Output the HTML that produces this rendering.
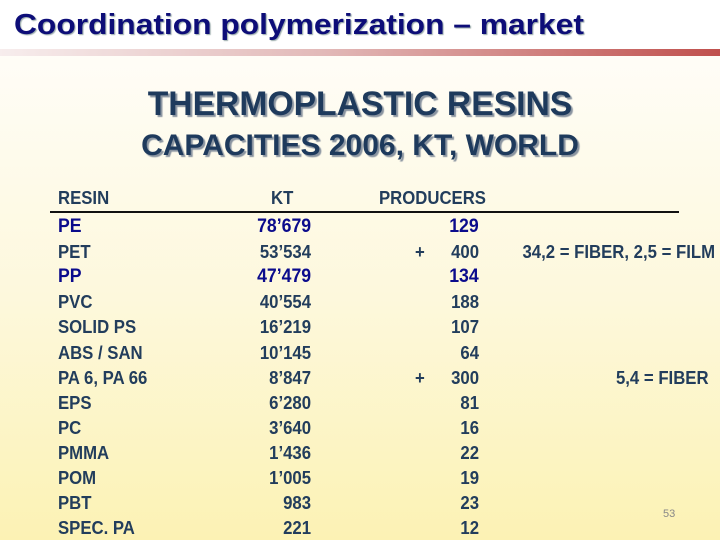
<!DOCTYPE html>
<html><head><meta charset="utf-8"><style>
html,body{margin:0;padding:0}
body{width:720px;height:540px;position:relative;overflow:hidden;background:#fff;font-family:"Liberation Sans",Arial,sans-serif}
#bg{position:absolute;left:0;top:56px;width:720px;height:484px;background:linear-gradient(to bottom,#fffdf7 0%,#fdf8dc 50%,#fcf2b4 100%)}
#bar{position:absolute;left:0;top:49px;width:720px;height:7px;background:linear-gradient(to right,#f7eded,#e2b9b8 45%,#c0504d)}
#title{position:absolute;left:14px;top:9px;font-size:29px;font-weight:bold;color:#0d0d78;white-space:nowrap;text-shadow:1px 1px 1px #9aa;transform:scaleX(1.095);transform-origin:left}
.h1{position:absolute;left:0;width:720px;text-align:center;font-weight:bold;white-space:nowrap;color:#1e3a5c;text-shadow:2px 2px 1px #8a94a0}
.t{position:absolute;font-size:18px;font-weight:bold;color:#223d5c;white-space:nowrap;line-height:20px;transform:scaleX(0.93)}
.l{transform-origin:left}.r{transform-origin:right;text-align:right}
.b{color:#0b0b8c;font-size:19px}
</style></head><body>
<div id="bg"></div>
<div id="bar"></div>
<div id="title">Coordination polymerization – market</div>
<div class="h1" style="top:85px;font-size:34px;transform:scaleX(0.99)">THERMOPLASTIC RESINS</div>
<div class="h1" style="top:129px;font-size:30px;transform:scaleX(1.0)">CAPACITIES 2006, KT, WORLD</div>
<div class="t l" style="left:58px;top:188px">RESIN</div>
<div class="t l" style="left:271px;top:188px">KT</div>
<div class="t l" style="left:379px;top:188px">PRODUCERS</div>
<div style="position:absolute;left:50px;top:211px;width:629px;height:2px;background:#111"></div>
<div id="rows"></div>
<div style="position:absolute;left:663px;top:508px;font-size:11px;color:#888">53</div>
<script>
const resins=["PE","PET","PP","PVC","SOLID PS","ABS / SAN","PA 6, PA 66","EPS","PC","PMMA","POM","PBT","SPEC. PA"];
const kt=["78’679","53’534","47’479","40’554","16’219","10’145","8’847","6’280","3’640","1’436","1’005","983","221"];
const producers=[129,400,134,188,107,64,300,81,16,22,19,23,12];
const plus=[false,true,false,false,false,false,true,false,false,false,false,false,false];
const notes=["","34,2 = FIBER, 2,5 = FILM","","","","","5,4 = FIBER","","","","","",""];
const bold=[true,false,true,false,false,false,false,false,false,false,false,false,false];
const rows=document.getElementById('rows');
function cell(txt,cls,style){const d=document.createElement('div');d.className='t '+cls;d.style.cssText=style;d.textContent=txt;rows.appendChild(d);return d;}
resins.forEach((r,i)=>{
 const top=217+i*25.1;const b=bold[i]?' b':'';
 let d=cell(r,'l'+b,`left:58px;top:${top}px`);
 
 
 d=cell(kt[i],'r'+b,`right:${720-311}px;top:${top}px`);
 
 
 d=cell(String(producers[i]),'r'+b,`right:${720-479}px;top:${top}px`);
 
 
 if(plus[i]){d=cell('+','l',`left:415px;top:${top}px`);
  
  }
 if(notes[i]){d=cell(notes[i],'r',`right:${i==1?5:11}px;top:${top}px`);
  
  }
});
</script>
</body></html>
